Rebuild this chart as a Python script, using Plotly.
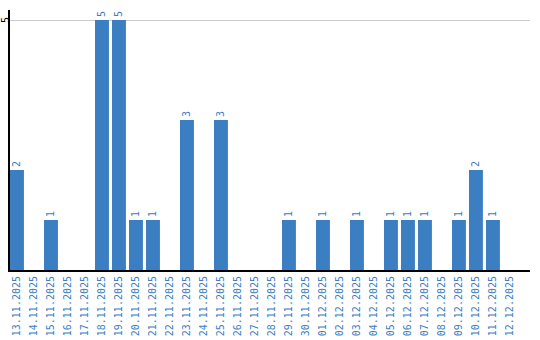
import plotly.graph_objects as go

dates = ["13.11.2025","14.11.2025","15.11.2025","16.11.2025","17.11.2025","18.11.2025",
         "19.11.2025","20.11.2025","21.11.2025","22.11.2025","23.11.2025","24.11.2025",
         "25.11.2025","26.11.2025","27.11.2025","28.11.2025","29.11.2025","30.11.2025",
         "01.12.2025","02.12.2025","03.12.2025","04.12.2025","05.12.2025","06.12.2025",
         "07.12.2025","08.12.2025","09.12.2025","10.12.2025","11.12.2025","12.12.2025"]
counts = [2,0,1,0,0,5,5,1,1,0,3,0,3,0,0,0,1,0,1,0,1,0,1,1,1,0,1,2,1,0]
y_ticks = [5]

BLUE = "#3b7ec1"
FONT = "DejaVu Sans Mono"
labels = [str(v) if v else "" for v in counts]

fig = go.Figure(go.Bar(
    x=list(range(len(dates))), y=counts, text=labels,
    textposition="outside", textangle=-90, cliponaxis=False,
    constraintext="none",
    textfont=dict(family=FONT, size=10, color=BLUE),
    marker=dict(color=BLUE, line=dict(width=0)), width=0.82,
))
fig.update_layout(
    width=540, height=340, margin=dict(l=10, r=10, t=10, b=70),
    plot_bgcolor="white", paper_bgcolor="white", showlegend=False,
    font=dict(family=FONT, size=10),
)
fig.update_xaxes(
    range=[-0.41, 30.18], tickmode="array", tickvals=list(range(len(dates))),
    ticktext=dates, tickangle=-90,
    tickfont=dict(family=FONT, color=BLUE, size=10),
    showline=True, linecolor="black", linewidth=2, showgrid=False, ticks="",
    zeroline=False, automargin=False,
)
fig.update_yaxes(
    range=[0, 5.2], tickvals=y_ticks, showticklabels=False,
    showline=True, linecolor="black",
    linewidth=2, showgrid=True, gridcolor="#cccccc", gridwidth=1, ticks="",
    zeroline=False, automargin=False,
)
for t in y_ticks:
    fig.add_annotation(
        x=0, xref="paper", y=t, yref="y", text=str(t), textangle=-90,
        showarrow=False, xanchor="center", xshift=-5, borderpad=0,
        font=dict(family=FONT, size=10, color="black"),
    )
fig.write_html("out.html")
